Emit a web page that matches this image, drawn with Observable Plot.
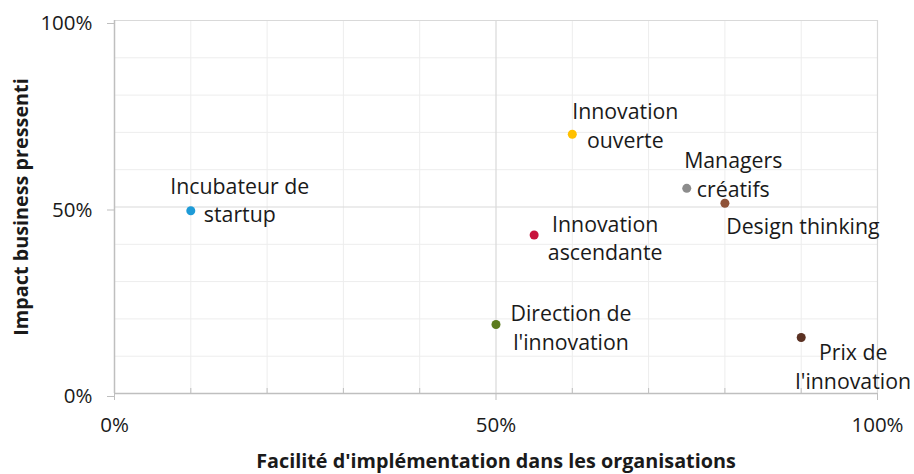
<!DOCTYPE html>
<html>
<head>
<meta charset="utf-8">
<script src="https://cdn.jsdelivr.net/npm/d3@7"></script>
<script src="https://cdn.jsdelivr.net/npm/@observablehq/plot@0.6"></script>
<style>
  html, body { margin: 0; padding: 0; background: #ffffff; }
  #chart { width: 914px; height: 474px; }
</style>
</head>
<body>
<div id="chart"></div>
<script>
// ---- data ----
const names = [
  "Incubateur de\nstartup",
  "Innovation\nouverte",
  "Managers\ncréatifs",
  "Design thinking",
  "Innovation\nascendante",
  "Direction de\nl'innovation",
  "Prix de\nl'innovation"
];
const ease   = [0.10, 0.60, 0.75, 0.80, 0.55, 0.50, 0.90];   // Facilité d'implémentation
const impact = [0.49, 0.695, 0.55, 0.51, 0.425, 0.185, 0.15]; // Impact business pressenti
const colors = ["#1E9BD7", "#FFC000", "#8C8C8C", "#8E5237", "#C8143C", "#5C7B1E", "#5B3123"];

const xTickValues = [0, 0.5, 1];
const yTickValues = [0, 0.5, 1];
const minorGrid = [0.1, 0.2, 0.3, 0.4, 0.6, 0.7, 0.8, 0.9];
const majorGrid = [0.5, 1];
const xTitle = "Facilité d'implémentation dans les organisations";
const yTitle = "Impact business pressenti";

// ---- label layout (pixel offsets of each label from its point) ----
const labelDx = [49, 53, 46.5, 78, 71, 75, 52];
const labelDy = [-12, -10, -15, 22, 2, 2, 28];

const points = names.map((name, i) => ({name, x: ease[i], y: impact[i], color: colors[i]}));
const pct = d => Math.round(d * 100) + "%";

const labelMarks = points.map((p, i) => Plot.text([p], {
  x: "x", y: "y", text: "name",
  dx: labelDx[i], dy: labelDy[i],
  textAnchor: "middle", lineAnchor: "middle", lineHeight: 1.34,
  fontSize: 21.3, fill: "#1a1a1a"
}));

const chart = Plot.plot({
  width: 914,
  height: 474,
  marginLeft: 114,
  marginRight: 37,
  marginTop: 20,
  marginBottom: 81,
  style: {fontFamily: "'Open Sans', 'Noto Sans', sans-serif", background: "#ffffff", overflow: "visible"},
  x: {domain: [0, 1]},
  y: {domain: [0, 1]},
  color: {type: "identity"},
  marks: [
    Plot.ruleX(minorGrid, {stroke: "#ededed", strokeWidth: 1}),
    Plot.ruleY(minorGrid, {stroke: "#ededed", strokeWidth: 1}),
    Plot.ruleX(majorGrid, {stroke: "#d9d9d9", strokeWidth: 1.2}),
    Plot.ruleY(majorGrid, {stroke: "#d9d9d9", strokeWidth: 1.2}),
    Plot.ruleX(minorGrid, {y1: 0, y2: 0, insetTop: -5, stroke: "#bfbfbf", strokeWidth: 1}),
    Plot.ruleX([0], {stroke: "#bfbfbf", strokeWidth: 1.5}),
    Plot.ruleY([0], {stroke: "#bfbfbf", strokeWidth: 1.5}),
    Plot.axisX({
      ticks: xTickValues, tickFormat: pct, tickSize: 7, tickPadding: 17,
      stroke: "#bfbfbf", fill: "#1a1a1a", fontSize: 20.5, label: null
    }),
    Plot.axisY({
      ticks: yTickValues, tickFormat: pct, tickSize: 7, tickPadding: 15,
      stroke: "#bfbfbf", fill: "#1a1a1a", fontSize: 20.5, dy: 3, label: null
    }),
    Plot.text([xTitle], {
      text: d => d, frameAnchor: "bottom", textAnchor: "middle", lineAnchor: "bottom", dy: 74,
      fontSize: 19.8, fontWeight: "bold", fill: "#1a1a1a"
    }),
    Plot.text([yTitle], {
      text: d => d, frameAnchor: "left", textAnchor: "middle", lineAnchor: "bottom", rotate: -90, dx: -87,
      fontSize: 19.8, fontWeight: "bold", fill: "#1a1a1a"
    }),
    Plot.dot(points, {x: "x", y: "y", r: 4.5, fill: "color", stroke: "none"}),
    ...labelMarks
  ]
});

document.getElementById("chart").appendChild(chart);
</script>
</body>
</html>
